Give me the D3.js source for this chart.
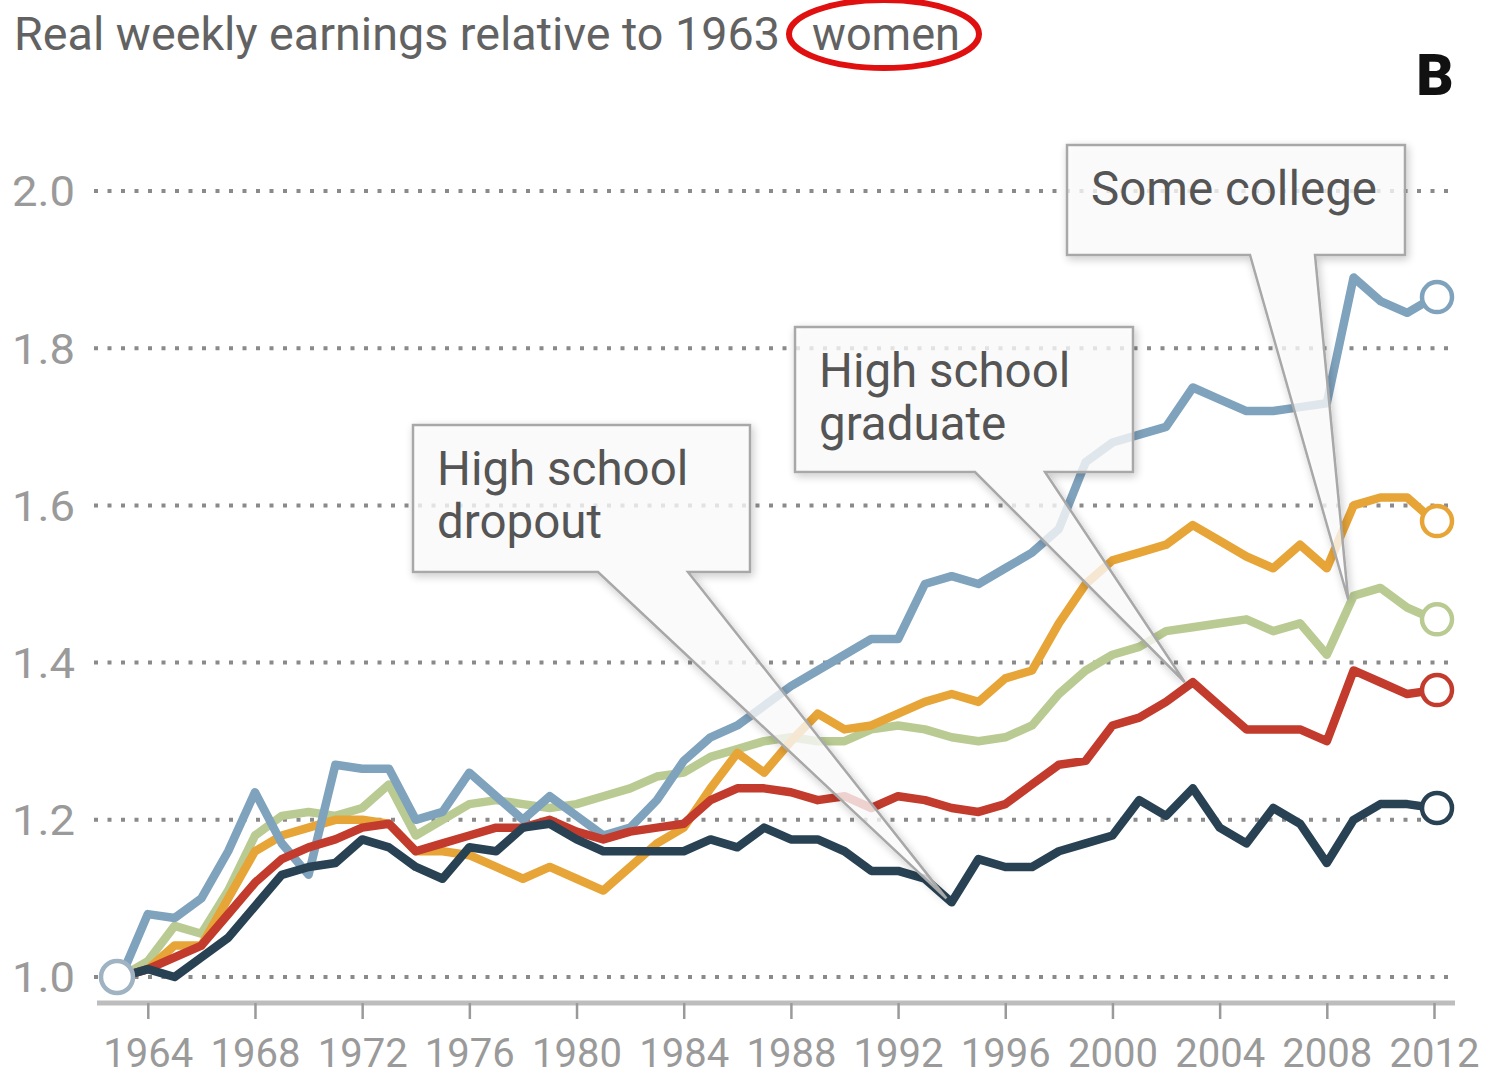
<!DOCTYPE html>
<html>
<head>
<meta charset="utf-8">
<script src="https://cdn.jsdelivr.net/npm/d3@7"></script>
<style>
  html, body { margin: 0; padding: 0; background: #fff; }
  svg { display: block; }
  .sans { font-family: "Roboto", "Liberation Sans", "Noto Sans", sans-serif; }
</style>
</head>
<body>
<svg id="chart" width="1486" height="1083"></svg>
<script>
// ---------------- data ----------------
const years = d3.range(1963, 2013);

const dropout = [1.00,1.01,1.00,1.025,1.05,1.09,1.13,1.14,1.145,1.175,1.165,1.14,1.125,1.165,1.16,1.19,1.195,1.175,1.16,
  1.16,1.16,1.16,1.175,1.165,1.19,1.175,1.175,1.16,1.135,1.135,1.125,1.095,1.15,1.14,1.14,1.16,1.17,
  1.18,1.225,1.205,1.24,1.19,1.17,1.215,1.195,1.145,1.20,1.22,1.22,1.215];

const hsGrad = [1.00,1.01,1.025,1.04,1.08,1.12,1.15,1.165,1.175,1.19,1.195,1.16,1.17,1.18,1.19,1.19,1.20,1.185,1.175,
  1.185,1.19,1.195,1.225,1.24,1.24,1.235,1.225,1.23,1.215,1.23,1.225,1.215,1.21,1.22,1.245,1.27,1.275,
  1.32,1.33,1.35,1.375,1.345,1.315,1.315,1.315,1.30,1.39,1.375,1.36,1.365];

const someCollege = [1.00,1.02,1.065,1.055,1.11,1.18,1.205,1.21,1.205,1.215,1.245,1.18,1.20,1.22,1.225,1.22,1.215,1.22,1.23,
  1.24,1.255,1.26,1.28,1.29,1.30,1.305,1.30,1.30,1.315,1.32,1.315,1.305,1.30,1.305,1.32,1.36,1.39,
  1.41,1.42,1.44,1.445,1.45,1.455,1.44,1.45,1.41,1.485,1.495,1.47,1.455];

const collegeGrad = [1.00,1.01,1.04,1.04,1.10,1.16,1.18,1.19,1.20,1.20,1.195,1.16,1.16,1.155,1.14,1.125,1.14,1.125,1.11,
  1.14,1.17,1.19,1.24,1.285,1.26,1.30,1.335,1.315,1.32,1.335,1.35,1.36,1.35,1.38,1.39,1.45,1.50,
  1.53,1.54,1.55,1.575,1.555,1.535,1.52,1.55,1.52,1.60,1.61,1.61,1.58];

const postCollege = [1.00,1.08,1.075,1.10,1.16,1.235,1.17,1.13,1.27,1.265,1.265,1.20,1.21,1.26,1.23,1.20,1.23,1.205,1.18,
  1.19,1.225,1.275,1.305,1.32,1.345,1.37,1.39,1.41,1.43,1.43,1.50,1.51,1.50,1.52,1.54,1.57,1.655,
  1.68,1.69,1.70,1.75,1.735,1.72,1.72,1.725,1.73,1.89,1.86,1.845,1.865];

const seriesNames = ["Some college", "College graduate", "Greater than college", "High school graduate", "High school dropout"];
const seriesValues = [someCollege, collegeGrad, postCollege, hsGrad, dropout];
const seriesColors = ["#b9cb92", "#e7a437", "#7fa2bd", "#c23b2c", "#284254"];

const yTicks = [1.0, 1.2, 1.4, 1.6, 1.8, 2.0];
const xTicks = d3.range(1964, 2013, 4);

const titleText = "Real weekly earnings relative to 1963";
const titleHighlight = "women";
const panelLabel = "B";

const callouts = [
  { lines: ["High school", "dropout"], tipYear: 1993.8, tipValue: 1.10 },
  { lines: ["High school", "graduate"], tipYear: 2002.7, tipValue: 1.375 },
  { lines: ["Some college"], tipYear: 2008.8, tipValue: 1.48 }
];

// ---------------- layout ----------------
const svg = d3.select("#chart");
const x = d3.scaleLinear().domain([1963, 2012]).range([121, 1434]);
const y = d3.scaleLinear().domain([1, 2]).range([977, 191]);

const defs = svg.append("defs");
const f = defs.append("filter").attr("id", "shadow").attr("x", "-10%").attr("y", "-10%").attr("width", "130%").attr("height", "130%");
f.append("feGaussianBlur").attr("in", "SourceAlpha").attr("stdDeviation", 4).attr("result", "b");
f.append("feOffset").attr("in", "b").attr("dx", 2).attr("dy", 3).attr("result", "o");
f.append("feComponentTransfer").attr("in", "o").attr("result", "o2")
  .append("feFuncA").attr("type", "linear").attr("slope", 0.25);
const fm = f.append("feMerge");
fm.append("feMergeNode").attr("in", "o2");
fm.append("feMergeNode").attr("in", "SourceGraphic");

// title
svg.append("text").attr("class", "sans")
  .attr("x", 14).attr("y", 50)
  .attr("font-size", 47).attr("fill", "#626262")
  .attr("textLength", 766).attr("lengthAdjust", "spacingAndGlyphs")
  .text(titleText);
svg.append("text").attr("class", "sans")
  .attr("x", 812).attr("y", 50)
  .attr("font-size", 47).attr("fill", "#626262")
  .attr("textLength", 148).attr("lengthAdjust", "spacingAndGlyphs")
  .text(titleHighlight);
svg.append("ellipse").attr("cx", 884).attr("cy", 34).attr("rx", 95).attr("ry", 34)
  .attr("fill", "none").attr("stroke", "#e01010").attr("stroke-width", 6);

svg.append("text").attr("class", "sans")
  .attr("x", 1435).attr("y", 95).attr("text-anchor", "middle")
  .attr("font-size", 58).attr("font-weight", 900).attr("fill", "#111").text(panelLabel);

// gridlines
svg.append("g").selectAll("line").data(yTicks).join("line")
  .attr("x1", 94).attr("x2", 1452)
  .attr("y1", d => y(d)).attr("y2", d => y(d))
  .attr("stroke", "#8a8a8a").attr("stroke-width", 4)
  .attr("stroke-dasharray", "4 9.5");

// y labels
svg.append("g").selectAll("text").data(yTicks).join("text")
  .attr("class", "sans")
  .attr("x", 12).attr("y", d => y(d)).attr("dy", "0.36em")
  .attr("font-size", 43).attr("fill", "#9a9a9a")
  .attr("textLength", 63).attr("lengthAdjust", "spacingAndGlyphs")
  .text(d => d.toFixed(1));

// x axis
const xAxis = d3.axisBottom(x).tickValues(xTicks).tickFormat(d3.format("d"))
  .tickSizeInner(16).tickSizeOuter(0).tickPadding(19);
const gx = svg.append("g").attr("transform", "translate(0,1003)").call(xAxis);
gx.select(".domain").remove();
gx.insert("line", ":first-child").attr("x1", 97).attr("x2", 1455).attr("y1", 0).attr("y2", 0)
  .attr("stroke", "#bdbdbd").attr("stroke-width", 5);
gx.selectAll(".tick line").attr("stroke", "#9a9a9a").attr("stroke-width", 2.5);
gx.selectAll(".tick text").attr("class", "sans").attr("font-size", 41).attr("fill", "#9a9a9a")
  .attr("textLength", 90).attr("lengthAdjust", "spacingAndGlyphs");

// lines
const line = d3.line().x((d, i) => x(years[i])).y(d => y(d));
const gLines = svg.append("g");
seriesValues.forEach((vals, k) => {
  gLines.append("path").datum(vals)
    .attr("d", line).attr("fill", "none")
    .attr("stroke", seriesColors[k]).attr("stroke-width", 8.5)
    .attr("stroke-linejoin", "round").attr("stroke-linecap", "round");
});
seriesValues.forEach((vals, k) => {
  gLines.append("circle")
    .attr("cx", x(years[years.length - 1]) + 3).attr("cy", y(vals[vals.length - 1]))
    .attr("r", 15).attr("fill", "#fff")
    .attr("stroke", seriesColors[k]).attr("stroke-width", 4.5);
});
gLines.append("circle").attr("cx", x(1963) - 4).attr("cy", y(1)).attr("r", 16)
  .attr("fill", "#fff").attr("stroke", "#9fb3c3").attr("stroke-width", 4.5);

// callouts
const boxes = [
  { x0: 413, y0: 425, w: 337, h: 147, b1: 598, b2: 688 },
  { x0: 795, y0: 327, w: 338, h: 145, b1: 975, b2: 1045 },
  { x0: 1067, y0: 145, w: 338, h: 110, b1: 1250, b2: 1315 }
];
const gC = svg.append("g");
callouts.forEach((c, i) => {
  const b = boxes[i];
  const tx = x(c.tipYear), ty = y(c.tipValue);
  const yb = b.y0 + b.h;
  const pts = [[b.x0, b.y0], [b.x0 + b.w, b.y0], [b.x0 + b.w, yb], [b.b2, yb], [tx, ty], [b.b1, yb], [b.x0, yb]];
  gC.append("path")
    .attr("d", "M" + pts.map(p => p.join(",")).join("L") + "Z")
    .attr("fill", "rgba(255,255,255,0.75)")
    .attr("stroke", "#a8a8a8").attr("stroke-width", 2.5)
    .attr("filter", "url(#shadow)");
  c.lines.forEach((t, j) => {
    gC.append("text").attr("class", "sans")
      .attr("x", b.x0 + 24).attr("y", b.y0 + 60 + j * 53)
      .attr("font-size", 47.5).attr("fill", "#555")
      .text(t);
  });
});
</script>
</body>
</html>
